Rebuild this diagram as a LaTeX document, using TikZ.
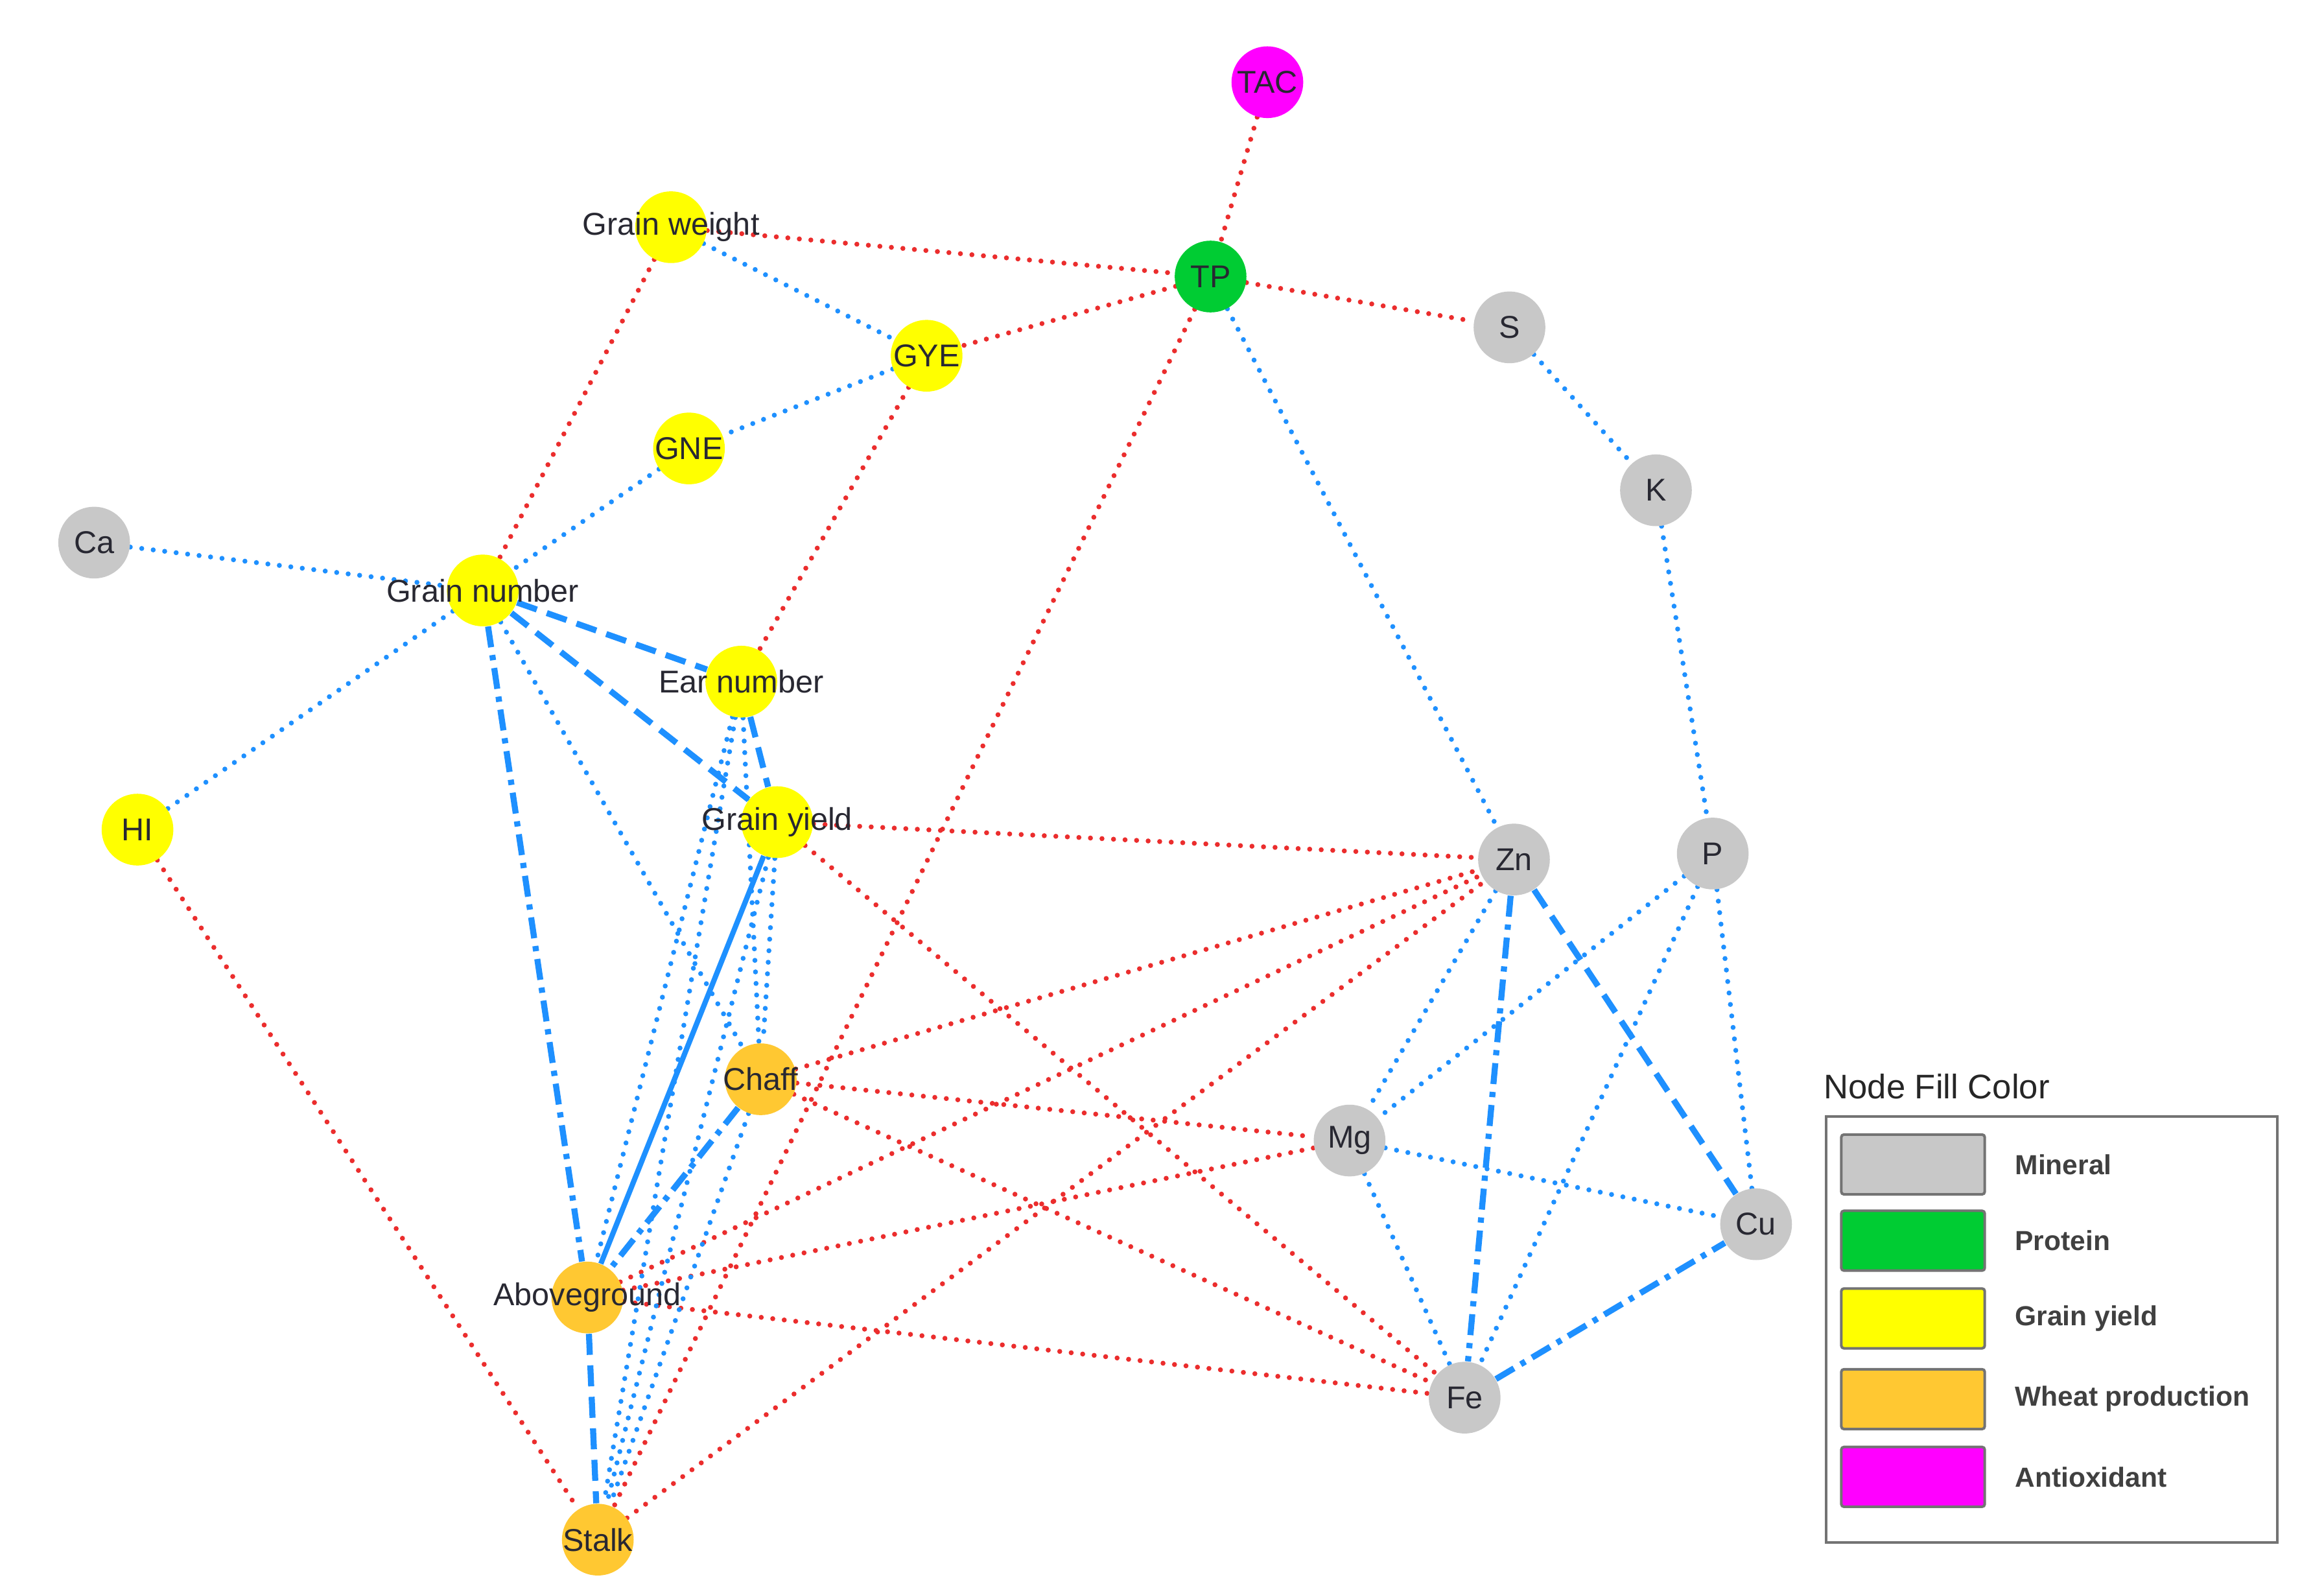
\documentclass[tikz,border=0pt]{standalone}
\usepackage{fontspec}
\setmainfont{Liberation Sans}
\usetikzlibrary{backgrounds}
\definecolor{eblue}{RGB}{30,144,255}
\definecolor{ered}{RGB}{235,45,45}
\definecolor{cmin}{RGB}{200,200,200}
\definecolor{cpro}{RGB}{0,204,51}
\definecolor{cgy}{RGB}{255,255,0}
\definecolor{cwp}{RGB}{255,200,50}
\definecolor{cant}{RGB}{255,0,255}
\definecolor{ctxt}{RGB}{40,40,50}
\begin{document}
\begin{tikzpicture}[x=0.02cm,y=-0.02cm,
  nd/.style={circle,minimum size=0.96cm,inner sep=0pt,draw=none},
  tx/.style={font=\fontsize{12}{14}\selectfont,text=ctxt,inner sep=0pt},
  rd/.style={ered,line width=1.9pt,line cap=round,dash pattern=on 0pt off 4.4pt},
  bd/.style={eblue,line width=1.9pt,line cap=round,dash pattern=on 0pt off 4.4pt},
  bds/.style={eblue,line width=2.3pt,dash pattern=on 8pt off 4pt},
  bdd/.style={eblue,line width=2.3pt,dash pattern=on 8pt off 3pt on 2pt off 3pt},
  bs/.style={eblue,line width=2pt},
  sw/.style={draw=black!55,line width=1pt,rounded corners=1pt,minimum width=1.92cm,minimum height=0.8cm,inner sep=0pt},
  lt/.style={font=\bfseries\fontsize{10.5}{13}\selectfont,text=black!75,anchor=west,inner sep=0pt}]
\useasboundingbox (0,0) rectangle (1555,1067);
% nodes
\node[nd,fill=cant] (tac) at (848,55) {};
\node[nd,fill=cgy] (gw) at (449,152) {};
\node[nd,fill=cpro] (tp) at (810,185) {};
\node[nd,fill=cmin] (s) at (1010,219) {};
\node[nd,fill=cgy] (gye) at (620,238) {};
\node[nd,fill=cgy] (gne) at (461,300) {};
\node[nd,fill=cmin] (k) at (1108,328) {};
\node[nd,fill=cmin] (ca) at (63,363) {};
\node[nd,fill=cgy] (gn) at (323,395) {};
\node[nd,fill=cgy] (en) at (496,456) {};
\node[nd,fill=cgy] (hi) at (92,555) {};
\node[nd,fill=cgy] (gy) at (520,550) {};
\node[nd,fill=cmin] (zn) at (1013,575) {};
\node[nd,fill=cmin] (p) at (1146,571) {};
\node[nd,fill=cwp] (ch) at (509,722) {};
\node[nd,fill=cmin] (mg) at (903,763) {};
\node[nd,fill=cmin] (cu) at (1175,819) {};
\node[nd,fill=cwp] (ag) at (393,868) {};
\node[nd,fill=cmin] (fe) at (980,935) {};
\node[nd,fill=cwp] (st) at (400,1030) {};
% edges
\begin{scope}[on background layer]
\draw[rd] (tac)--(tp);
\draw[rd] (gw)--(tp);
\draw[rd] (tp)--(gye);
\draw[rd] (tp)--(s);
\draw[rd] (gw)--(gn);
\draw[rd] (gye)--(en);
\draw[rd] (tp)--(st);
\draw[rd] (gy)--(zn);
\draw[rd] (gy)--(fe);
\draw[rd] (hi)--(st);
\draw[rd] (ch)--(zn);
\draw[rd] (ch)--(mg);
\draw[rd] (ch)--(fe);
\draw[rd] (ag)--(zn);
\draw[rd] (ag)--(mg);
\draw[rd] (ag)--(fe);
\draw[rd] (st)--(zn);
\draw[bd] (gw)--(gye);
\draw[bd] (gye)--(gne);
\draw[bd] (gne)--(gn);
\draw[bd] (ca)--(gn);
\draw[bd] (gn)--(hi);
\draw[bd] (gn)--(ch);
\draw[bd] (tp)--(zn);
\draw[bd] (s)--(k);
\draw[bd] (k)--(p);
\draw[bd] (en)--(ag);
\draw[bd] (en)--(ch);
\draw[bd] (en)--(st);
\draw[bd] (gy)--(ch);
\draw[bd] (gy)--(st);
\draw[bd] (ch)--(st);
\draw[bd] (zn)--(mg);
\draw[bd] (p)--(mg);
\draw[bd] (p)--(fe);
\draw[bd] (p)--(cu);
\draw[bd] (mg)--(cu);
\draw[bd] (mg)--(fe);
\draw[bds] (gn)--(en);
\draw[bds] (gn)--(gy);
\draw[bds] (en)--(gy);
\draw[bds] (zn)--(cu);
\draw[bds] (ag)--(st);
\draw[bdd] (zn)--(fe);
\draw[bdd] (fe)--(cu);
\draw[bdd] (gn)--(ag);
\draw[bdd] (ch)--(ag);
\draw[bs] (gy)--(ag);
\end{scope}
% labels
\node[tx] (tac-t) at (tac) {TAC};
\node[tx] (gw-t) at (gw) {Grain weight};
\node[tx] (tp-t) at (tp) {TP};
\node[tx] (s-t) at (s) {S};
\node[tx] (gye-t) at (gye) {GYE};
\node[tx] (gne-t) at (gne) {GNE};
\node[tx] (k-t) at (k) {K};
\node[tx] (ca-t) at (ca) {Ca};
\node[tx] (gn-t) at (gn) {Grain number};
\node[tx] (en-t) at (en) {Ear number};
\node[tx] (hi-t) at (hi) {HI};
\node[tx] (gy-t) at (gy) {Grain yield};
\node[tx] (zn-t) at (zn) {Zn};
\node[tx] (p-t) at (p) {P};
\node[tx] (ch-t) at (ch) {Chaff};
\node[tx] (mg-t) at (mg) {Mg};
\node[tx] (cu-t) at (cu) {Cu};
\node[tx] (ag-t) at (ag) {Aboveground};
\node[tx] (fe-t) at (fe) {Fe};
\node[tx] (st-t) at (st) {Stalk};
% legend
\node[font=\fontsize{13}{15}\selectfont,text=black!85,anchor=west,inner sep=0pt] (lg-t) at (1220,727) {Node Fill Color};
\node[draw=black!55,line width=1pt,minimum width=6.04cm,minimum height=5.7cm,inner sep=0pt,anchor=north west] (lg) at (1221,746) {};
\node[sw,fill=cmin] (sw1) at (1280,779) {};
\node[sw,fill=cpro] (sw2) at (1280,830) {};
\node[sw,fill=cgy] (sw3) at (1280,882) {};
\node[sw,fill=cwp] (sw4) at (1280,936) {};
\node[sw,fill=cant] (sw5) at (1280,988) {};
\node[lt] (l1) at (1348,779) {Mineral};
\node[lt] (l2) at (1348,830) {Protein};
\node[lt] (l3) at (1348,882) {Grain yield};
\node[lt] (l4) at (1348,936) {Wheat production};
\node[lt] (l5) at (1348,988) {Antioxidant};
\end{tikzpicture}
\end{document}
